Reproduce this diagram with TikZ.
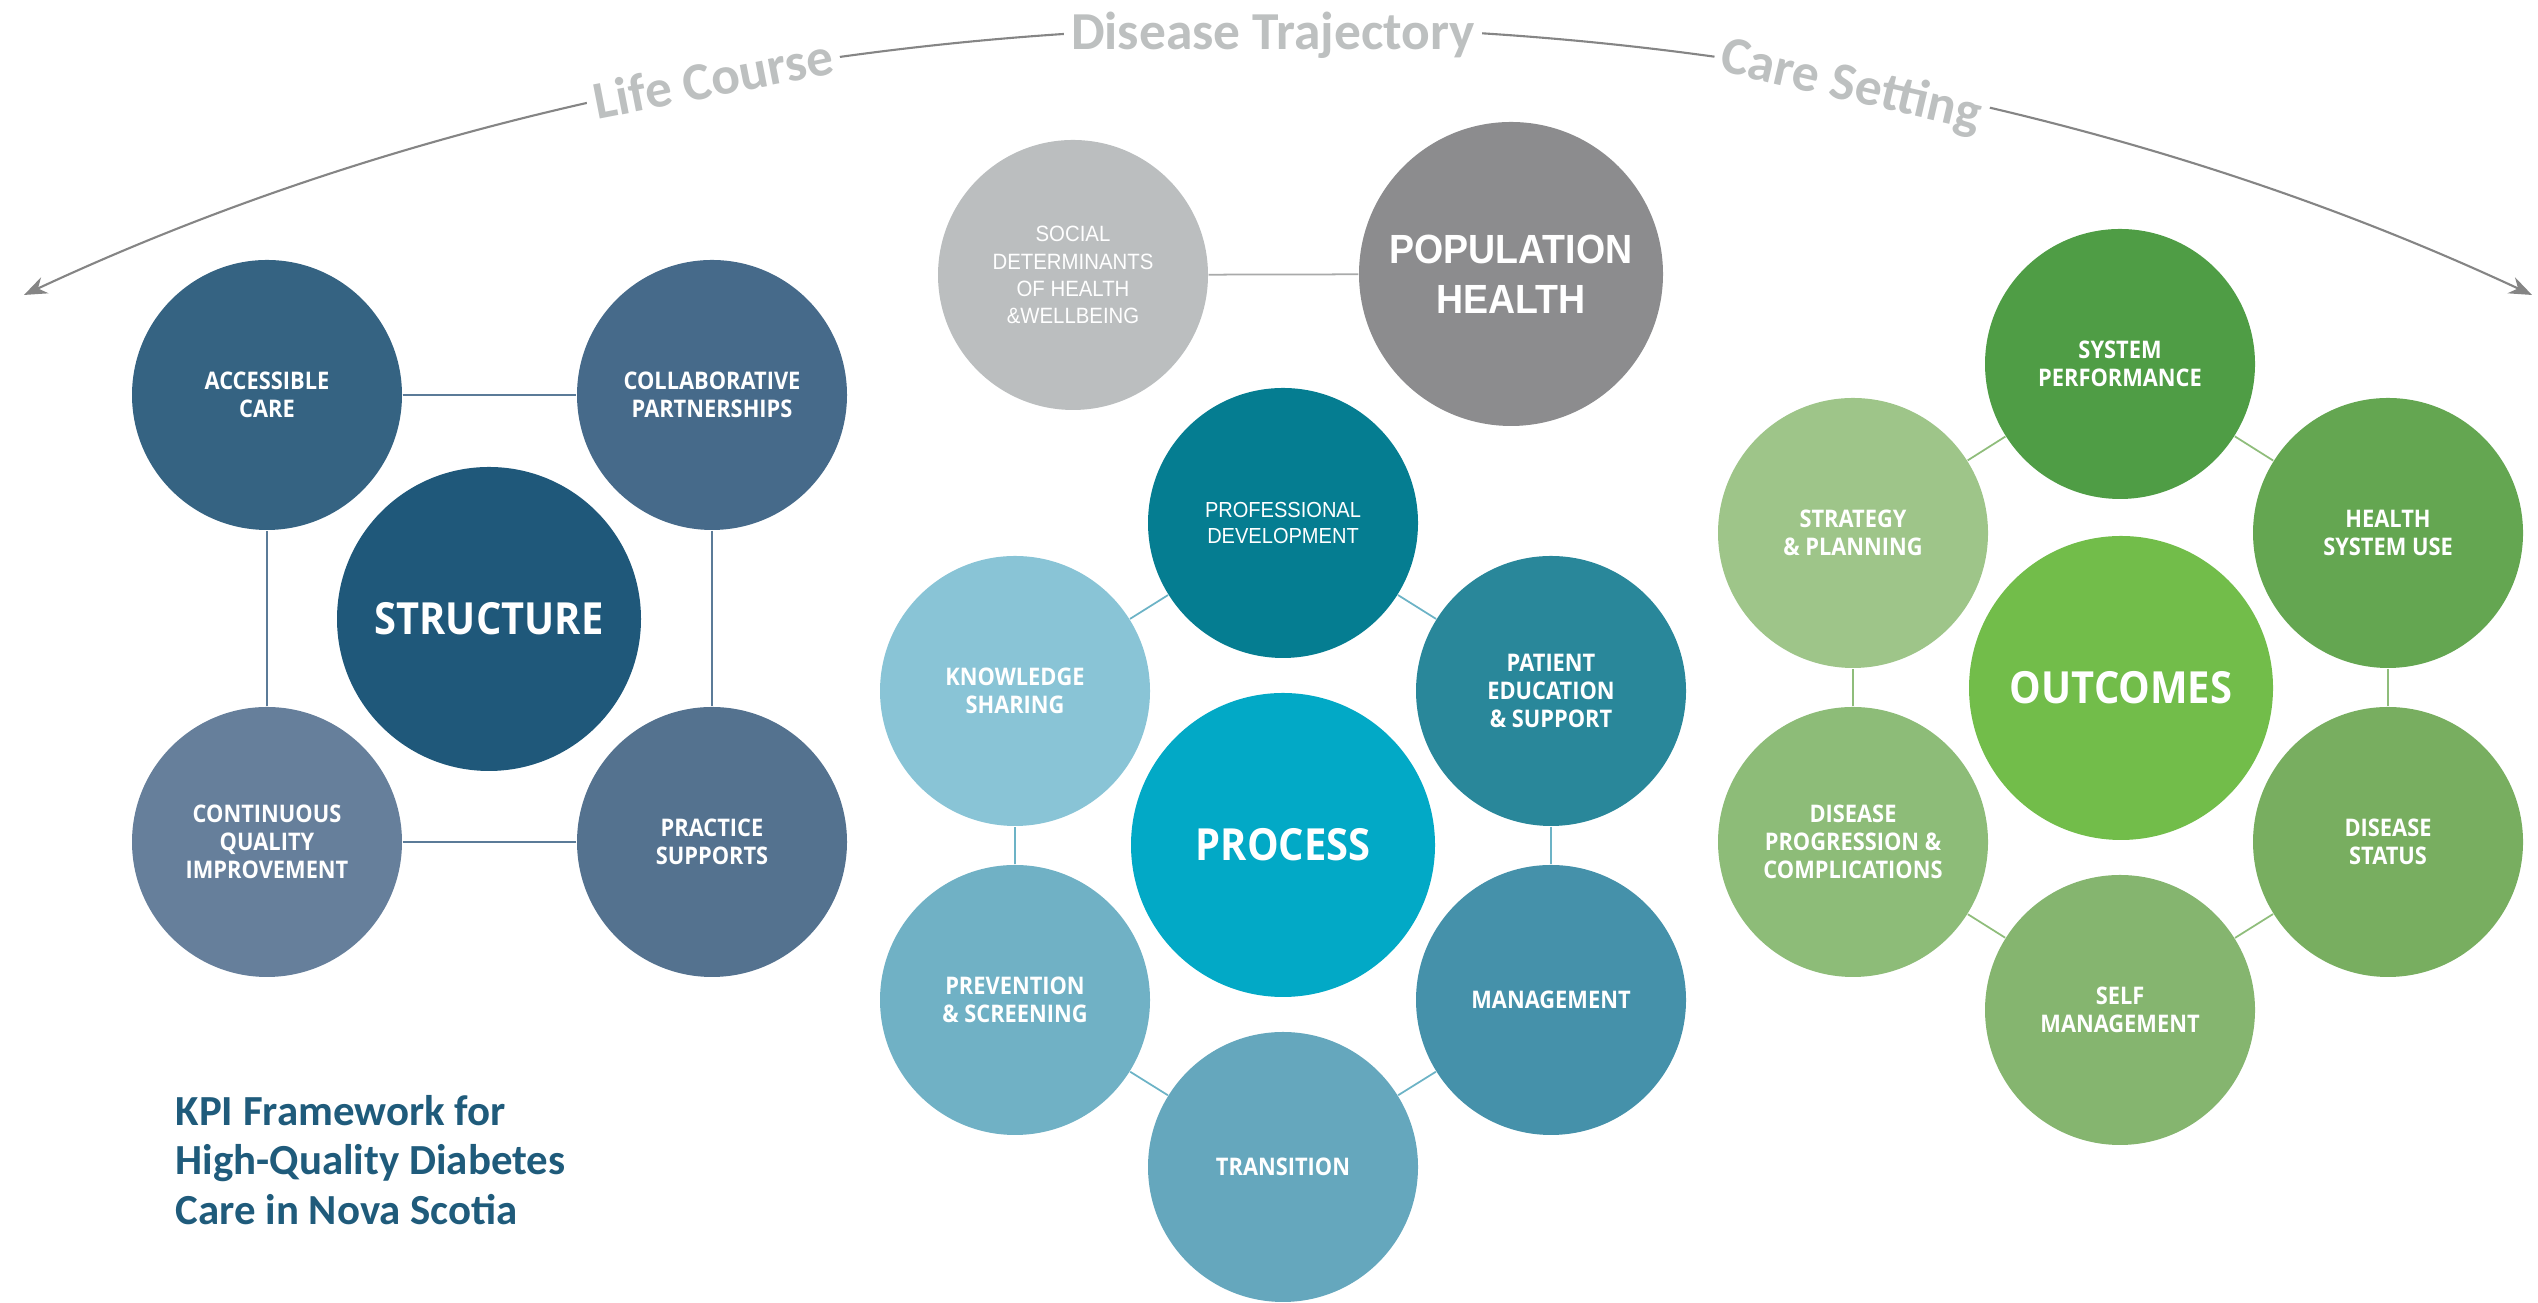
\documentclass[tikz,border=0pt]{standalone}
\usepackage{fontspec}
\setmainfont{Open Sans}
\newfontfamily\bubblefont[FakeStretch=0.9]{Open Sans}
\newfontfamily\narrowfont[FakeStretch=0.92]{Liberation Sans}
\newfontfamily\titlefont{Carlito}
\usetikzlibrary{arrows.meta}

\definecolor{accesscol}{HTML}{356382}
\definecolor{collabcol}{HTML}{466A8A}
\definecolor{structcol}{HTML}{1F587A}
\definecolor{cqicol}{HTML}{667F9B}
\definecolor{practicecol}{HTML}{54728F}
\definecolor{structline}{HTML}{5B7B98}
\definecolor{socialcol}{HTML}{BBBEBF}
\definecolor{popcol}{HTML}{8C8C8E}
\definecolor{popline}{HTML}{A9AAAA}
\definecolor{profcol}{HTML}{057D91}
\definecolor{knowcol}{HTML}{89C4D6}
\definecolor{patientcol}{HTML}{29879A}
\definecolor{processcol}{HTML}{02A9C6}
\definecolor{prevcol}{HTML}{70B1C5}
\definecolor{mgmtcol}{HTML}{4591AA}
\definecolor{transcol}{HTML}{65A7BD}
\definecolor{processline}{HTML}{6CB3C6}
\definecolor{syscol}{HTML}{4F9D45}
\definecolor{stratcol}{HTML}{9EC589}
\definecolor{hsusecol}{HTML}{64A651}
\definecolor{outcol}{HTML}{72BD4A}
\definecolor{progcol}{HTML}{8DBC78}
\definecolor{statuscol}{HTML}{78AE60}
\definecolor{selfcol}{HTML}{85B56F}
\definecolor{outline}{HTML}{8FBD7B}
\definecolor{titlecol}{HTML}{1F5B7B}
\definecolor{arcgray}{HTML}{858585}
\definecolor{labelgray}{HTML}{BDC0C0}

\begin{document}
\begin{tikzpicture}[
        bubble/.style={circle, minimum size=2.7cm, inner sep=0pt, align=center, text=white, font=\bubblefont\bfseries\fontsize{6.9}{8}\selectfont},
        hub/.style={bubble, minimum size=3.04cm, font=\bubblefont\bfseries\fontsize{12.6}{14}\selectfont},
        link/.style={line width=0.5pt},
        sweep/.style={<->, >={Stealth[length=6.5pt, width=5pt]}, draw=arcgray, line width=0.6pt},
        arclabel/.style={fill=white, text=labelgray, inner sep=2pt, font=\titlefont\bfseries\fontsize{15.2}{18}\selectfont}
    ]
        \useasboundingbox (0,0) rectangle (25.38,13.03);

        \coordinate (lcleft) at (0.24,10.08);
        \coordinate (lcright) at (25.32,10.08);
        \draw[sweep] (lcleft) to[out=25, in=155, looseness=0.86] (lcright);
        \node[arclabel, rotate=11] (lifecourse) at (7.13,12.25) {Life Course};
        \node[arclabel] (trajectory) at (12.73,12.68) {Disease Trajectory};
        \node[arclabel, rotate=-13] (caresetting) at (18.51,12.16) {Care Setting};

        \node[bubble, fill=accesscol] (access) at (2.67,9.08) {ACCESSIBLE\\CARE};
        \node[bubble, fill=collabcol] (collab) at (7.12,9.08) {COLLABORATIVE\\PARTNERSHIPS};
        \node[hub, fill=structcol] (structure) at (4.89,6.84) {STRUCTURE};
        \node[bubble, fill=cqicol] (cqi) at (2.67,4.61) {CONTINUOUS\\QUALITY\\IMPROVEMENT};
        \node[bubble, fill=practicecol] (practice) at (7.12,4.61) {PRACTICE\\SUPPORTS};

        \draw[link, structline] (access) -- (collab);
        \draw[link, structline] (collab) -- (practice);
        \draw[link, structline] (practice) -- (cqi);
        \draw[link, structline] (cqi) -- (access);

        \node[bubble, fill=socialcol, font=\narrowfont\fontsize{6.3}{7.7}\selectfont] (social) at (10.73,10.28) {SOCIAL\\DETERMINANTS\\OF HEALTH\\\&WELLBEING};
        \node[hub, fill=popcol, font=\narrowfont\bfseries\fontsize{11.6}{14.2}\selectfont] (pophealth) at (15.11,10.29) {POPULATION\\HEALTH};
        \draw[link, popline] (social) -- (pophealth);

        \node[bubble, fill=profcol, font=\narrowfont\fontsize{6.2}{7.4}\selectfont] (profdev) at (12.83,7.80) {PROFESSIONAL\\DEVELOPMENT};
        \node[bubble, fill=knowcol] (knowledge) at (10.15,6.12) {KNOWLEDGE\\SHARING};
        \node[bubble, fill=patientcol] (patient) at (15.51,6.12) {PATIENT\\EDUCATION\\\& SUPPORT};
        \node[hub, fill=processcol] (process) at (12.83,4.58) {PROCESS};
        \node[bubble, fill=prevcol] (prevention) at (10.15,3.03) {PREVENTION\\\& SCREENING};
        \node[bubble, fill=mgmtcol] (management) at (15.51,3.03) {MANAGEMENT};
        \node[bubble, fill=transcol] (transition) at (12.83,1.36) {TRANSITION};

        \draw[link, processline] (knowledge) -- (profdev);
        \draw[link, processline] (profdev) -- (patient);
        \draw[link, processline] (patient) -- (management);
        \draw[link, processline] (management) -- (transition);
        \draw[link, processline] (transition) -- (prevention);
        \draw[link, processline] (prevention) -- (knowledge);

        \node[bubble, fill=syscol] (sysperf) at (21.20,9.39) {SYSTEM\\PERFORMANCE};
        \node[bubble, fill=stratcol] (strategy) at (18.53,7.70) {STRATEGY\\\& PLANNING};
        \node[bubble, fill=hsusecol] (hsuse) at (23.88,7.70) {HEALTH\\SYSTEM USE};
        \node[hub, fill=outcol] (outcomes) at (21.21,6.15) {OUTCOMES};
        \node[bubble, fill=progcol] (progression) at (18.53,4.61) {DISEASE\\PROGRESSION \&\\COMPLICATIONS};
        \node[bubble, fill=statuscol] (status) at (23.88,4.61) {DISEASE\\STATUS};
        \node[bubble, fill=selfcol] (selfmgmt) at (21.20,2.93) {SELF\\MANAGEMENT};

        \draw[link, outline] (strategy) -- (sysperf);
        \draw[link, outline] (sysperf) -- (hsuse);
        \draw[link, outline] (hsuse) -- (status);
        \draw[link, outline] (status) -- (selfmgmt);
        \draw[link, outline] (selfmgmt) -- (progression);
        \draw[link, outline] (progression) -- (strategy);

        \node[anchor=west, align=left, inner sep=0pt, text=titlecol, font=\titlefont\bfseries\fontsize{12.2}{14}\selectfont] (title) at (1.75,1.43) {KPI Framework for\\High-Quality Diabetes\\Care in Nova Scotia};
    \end{tikzpicture}
\end{document}
